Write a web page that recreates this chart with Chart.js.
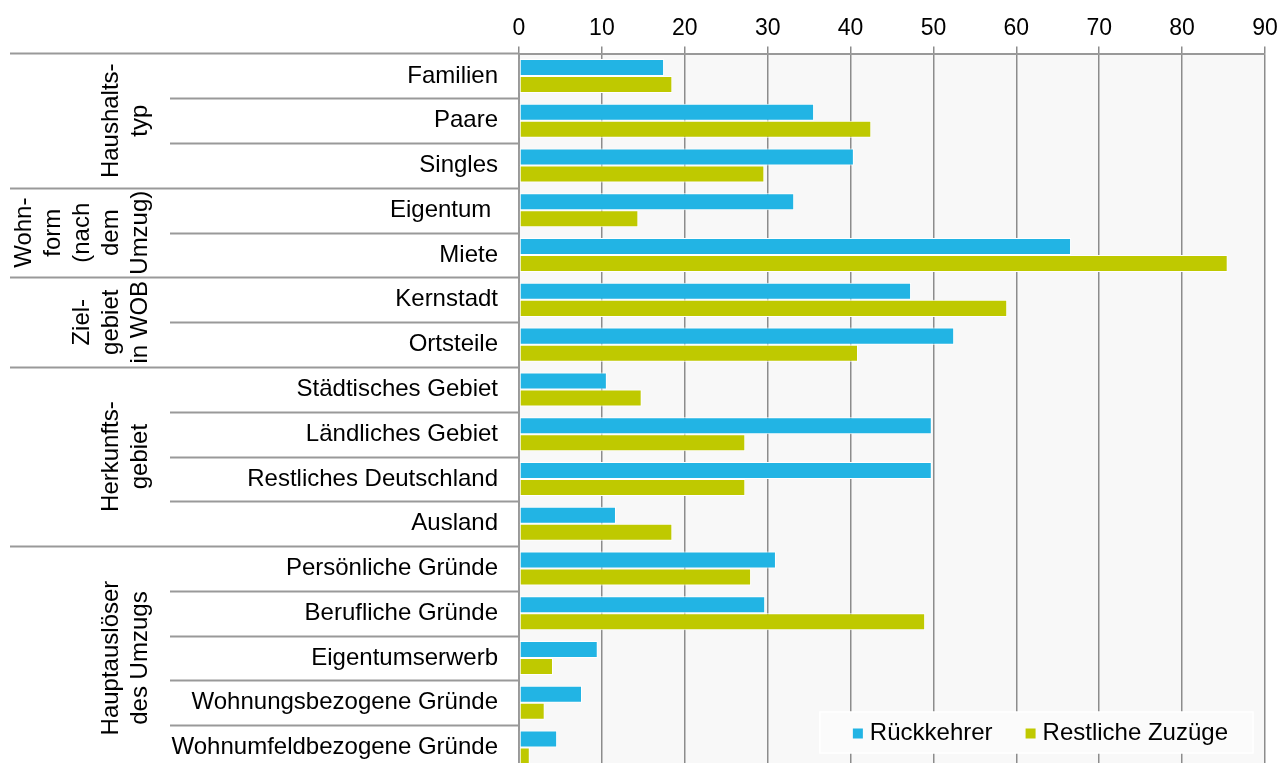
<!DOCTYPE html>
<html>
<head>
<meta charset="utf-8">
<script src="https://cdn.jsdelivr.net/npm/chart.js@4/dist/chart.umd.min.js"></script>
<style>
  html, body { margin: 0; padding: 0; background: #fff; overflow: hidden; }
  #wrap { width: 1280px; height: 775px; }
</style>
</head>
<body>
<div id="wrap"><canvas id="chart" width="1280" height="775"></canvas></div>
<script>
// categories, top to bottom
const categories = [
  "Familien", "Paare", "Singles",
  "Eigentum ", "Miete",
  "Kernstadt", "Ortsteile",
  "Städtisches Gebiet", "Ländliches Gebiet", "Restliches Deutschland", "Ausland",
  "Persönliche Gründe", "Berufliche Gründe", "Eigentumserwerb",
  "Wohnungsbezogene Gründe", "Wohnumfeldbezogene Gründe"
];
const rueckkehrer = [17.5, 35.6, 40.4, 33.2, 66.6, 47.3, 52.5, 10.6, 49.8, 49.8, 11.7, 31.0, 29.7, 9.5, 7.6, 4.6];
const restliche   = [18.5, 42.5, 29.6, 14.4, 85.5, 58.9, 40.9, 14.8, 27.3, 27.3, 18.5, 28.0, 49.0, 4.1, 3.1, 1.3];
const seriesNames = ["Rückkehrer", "Restliche Zuzüge"];

// group labels on the left and how many rows each covers
const groupLabels = [
  ["Haushalts-", "typ"],
  ["Wohn-", "form", "(nach", "dem", "Umzug)"],
  ["Ziel-", "gebiet", "in WOB"],
  ["Herkunfts-", "gebiet"],
  ["Hauptauslöser", "des Umzugs"]
];
const groupSizes = [3, 2, 2, 4, 5];

const xTicks = [0, 10, 20, 30, 40, 50, 60, 70, 80, 90];

const FONT = "'Liberation Sans', Arial, sans-serif";
const lineCol = "#999999";

// plot background, separators, group labels, legend
const decor = {
  id: 'decor',
  beforeDraw(chart) {
    const {ctx, chartArea: a} = chart;
    ctx.save();
    ctx.fillStyle = "#f8f8f8";
    ctx.fillRect(a.left, a.top, a.right - a.left, a.bottom - a.top);
    ctx.restore();
  },
  afterDraw(chart) {
    const {ctx, chartArea: a} = chart;
    const y = chart.scales.y;
    const half = (y.getPixelForValue(1) - y.getPixelForValue(0)) / 2;
    ctx.save();
    ctx.strokeStyle = lineCol;
    ctx.lineWidth = 2;
    // top line extended to the left
    ctx.beginPath();
    ctx.moveTo(10, a.top);
    ctx.lineTo(a.left, a.top);
    ctx.stroke();

    // row and group separators
    const groupEnds = [];
    let acc = 0;
    groupSizes.forEach(s => { acc += s; groupEnds.push(acc); });
    for (let i = 1; i < categories.length; i++) {
      const py = Math.round(y.getPixelForValue(i) - half) + 0.5;
      const startX = groupEnds.includes(i) ? 10 : 170;
      ctx.beginPath();
      ctx.moveTo(startX, py);
      ctx.lineTo(a.left, py);
      ctx.stroke();
    }

    // rotated group labels
    ctx.fillStyle = "#000";
    ctx.font = "24px " + FONT;
    ctx.textAlign = "center";
    ctx.textBaseline = "middle";
    let start = 0;
    groupLabels.forEach((lines, g) => {
      const end = start + groupSizes[g] - 1;
      const yc = (y.getPixelForValue(start) + y.getPixelForValue(end)) / 2;
      const n = lines.length;
      lines.forEach((t, k) => {
        const x = 140 - (n - 1 - k) * 29;
        ctx.save();
        ctx.translate(x, yc);
        ctx.rotate(-Math.PI / 2);
        ctx.fillText(t, 0, 0);
        ctx.restore();
      });
      start += groupSizes[g];
    });

    // legend box
    const ds = chart.data.datasets;
    ctx.font = "24px " + FONT;
    const w0 = ctx.measureText(ds[0].label).width;
    const w1 = ctx.measureText(ds[1].label).width;
    const boxW = 33 + 17 + w0 + 33 + 17 + w1 + 25;
    const bx = a.right - 12 - boxW, by = a.bottom - 58, bh = 41;
    ctx.fillStyle = "#fbfbfb";
    ctx.fillRect(bx, by, boxW, bh);
    ctx.strokeStyle = "#ffffff";
    ctx.lineWidth = 1.5;
    ctx.strokeRect(bx, by, boxW, bh);
    const cy = by + bh / 2;
    let lx = bx + 33;
    [w0, w1].forEach((w, i) => {
      ctx.fillStyle = ds[i].backgroundColor;
      ctx.fillRect(lx, cy - 4, 10, 10);
      ctx.fillStyle = "#000";
      ctx.textAlign = "left";
      ctx.textBaseline = "middle";
      ctx.fillText(ds[i].label, lx + 17, cy + 1);
      lx += 17 + w + 33;
    });
    ctx.restore();
  }
};

new Chart(document.getElementById('chart'), {
  type: 'bar',
  data: {
    labels: categories,
    datasets: [
      { label: seriesNames[0], data: rueckkehrer, backgroundColor: "#22b4e4",
        borderColor: "#ffffff", borderWidth: 1, borderSkipped: false },
      { label: seriesNames[1], data: restliche, backgroundColor: "#bfc900",
        borderColor: "#ffffff", borderWidth: 1, borderSkipped: false }
    ]
  },
  options: {
    indexAxis: 'y',
    responsive: false,
    animation: false,
    devicePixelRatio: 1,
    layout: { padding: { top: 11, right: 15, bottom: 5, left: 0 } },
    datasets: { bar: { categoryPercentage: 0.76, barPercentage: 1 } },
    plugins: { legend: { display: false }, tooltip: { enabled: false } },
    scales: {
      x: {
        position: 'top',
        min: 0, max: 90,
        afterBuildTicks: s => { s.ticks = xTicks.map(v => ({ value: v })); },
        afterFit: s => { s.paddingLeft = 0; s.paddingRight = 0; },
        ticks: { font: { size: 23, family: FONT }, color: "#000", padding: 4 },
        grid: { color: "#8c8c8c", lineWidth: 1.5, tickLength: 7 },
        border: { display: true, color: lineCol, width: 2 }
      },
      y: {
        position: 'left',
        afterFit: s => { s.width = 519; s.paddingTop = 0; s.paddingBottom = 0; },
        ticks: { font: { size: 24, family: FONT }, color: "#000", padding: 21, autoSkip: false },
        grid: { display: false, drawTicks: false },
        border: { display: true, color: lineCol, width: 2 }
      }
    }
  },
  plugins: [decor]
});
</script>
</body>
</html>
